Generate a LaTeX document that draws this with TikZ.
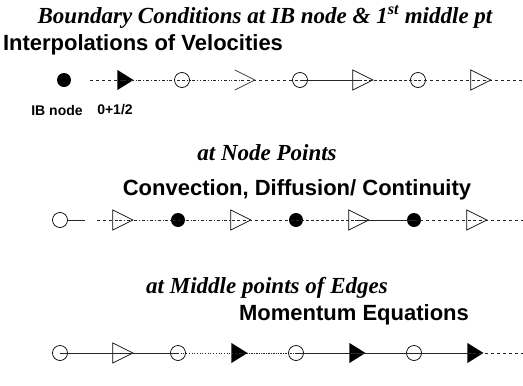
\documentclass[tikz,border=0pt]{standalone}
\usepackage{fontspec}
\setmainfont{Liberation Serif}
\setsansfont{Liberation Sans}
\usetikzlibrary{positioning, shapes.geometric}

\begin{document}
\begin{tikzpicture}[
  x=1pt, y=-1pt,
  node distance=59pt, on grid,
  every node/.style={inner sep=0pt, outer sep=0pt},
  ttl/.style={font=\fontsize{23}{27}\selectfont\bfseries\itshape},
  hdr/.style={font=\fontsize{22}{26}\selectfont\sffamily\bfseries},
  lbl/.style={font=\fontsize{14}{17}\selectfont\sffamily\bfseries},
  fdot/.style={circle, fill=black, minimum size=14pt},
  ring/.style={circle, draw, line width=0.7pt, minimum size=15pt},
  ftri/.style={isosceles triangle, isosceles triangle stretches, fill=black, minimum width=20pt, minimum height=16pt},
  otri/.style={isosceles triangle, isosceles triangle stretches, draw, line width=0.7pt, minimum width=20pt, minimum height=20pt},
  chev/.style={isosceles triangle, isosceles triangle stretches, minimum width=20pt, minimum height=20pt},
  ln/.style={line width=0.7pt, black!85}
]
\useasboundingbox (0,0) rectangle (523,386);

% Titles
\node[ttl] (cond) at (265,17) {Boundary Conditions at IB node \& 1\textsuperscript{st} middle pt};
\node[hdr, anchor=west] (interp) at (3,45) {Interpolations of Velocities};

% Row 1: interpolation
\node[fdot] (b1) at (64,80) {};
\node[ftri] (b2) [right=of b1] {};
\node[ring] (b3) [right=of b2] {};
\node[chev] (b4) [right=of b3] {};
\node[ring] (b5) [right=of b4] {};
\node[otri] (b6) [right=of b5] {};
\node[ring] (b7) [right=of b6] {};
\node[otri] (b8) [right=of b7] {};
\coordinate (r1s) at (90,80);
\coordinate (r1e) at (523,80);
\node[lbl] (ib) [below=30pt of b1, xshift=-7pt] {IB node};
\node[lbl] (half) [below=30pt of b2, xshift=-8pt] {0+1/2};

% Row 2: node points
\node[ttl] (nodept) at (267,153) {at Node Points};
\node[hdr] (conv) at (297,190) {Convection, Diffusion/ Continuity};
\node[ring] (n1) at (60,220) {};
\node[otri] (n2) [right=of n1] {};
\node[fdot] (n3) [right=of n2] {};
\node[otri] (n4) [right=of n3] {};
\node[fdot] (n5) [right=of n4] {};
\node[otri] (n6) [right=of n5] {};
\node[fdot] (n7) [right=of n6] {};
\node[otri] (n8) [right=of n7] {};
\coordinate (n1g) at (85,220);
\coordinate (n2g) at (97,220);
\coordinate (r2e) at (523,220);

% Row 3: middle points of edges
\node[ttl] (midpt) at (267,288) {at Middle points of Edges};
\node[hdr] (mom) at (354,315) {Momentum Equations};
\node[ring] (m1) at (60,353) {};
\node[otri] (m2) [right=of m1] {};
\node[ring] (m3) [right=of m2] {};
\node[ftri] (m4) [right=of m3] {};
\node[ring] (m5) [right=of m4] {};
\node[ftri] (m6) [right=of m5] {};
\node[ring] (m7) [right=of m6] {};
\node[ftri] (m8) [right=of m7] {};
\coordinate (r3e) at (523,353);

% Lines
\draw[ln] (b4.left corner) -- (b4.apex) -- (b4.right corner);
\draw[ln, dashed] (r1s) -- (b2.center);
\draw[ln, dash dot] (b2.center) -- (b3.center);
\draw[ln, dash dot dot] (b3.center) -- (b4.center);
\draw[ln, dashed] (b4.center) -- (b5.center);
\draw[ln] (b5.center) -- (b6.center);
\draw[ln, densely dashed] (b6.center) -- (b7.center);
\draw[ln, dashed] (b7.center) -- (b8.center);
\draw[ln, dashed] (b8.center) -- (r1e);

\draw[ln] (n1.east) -- (n1g);
\draw[ln, dashed] (n2g) -- (n2.center);
\draw[ln, dash dot] (n2.center) -- (n3.center);
\draw[ln, dash dot] (n3.center) -- (n4.center);
\draw[ln, dashed] (n4.center) -- (n5.center);
\draw[ln, densely dashed] (n5.center) -- (n6.center);
\draw[ln] (n6.center) -- (n7.center);
\draw[ln, dashed] (n7.center) -- (n8.center);
\draw[ln, dashed] (n8.center) -- (r2e);

\draw[ln] (m1.center) -- (m2.center);
\draw[ln] (m2.center) -- (m3.center);
\draw[ln, dotted] (m3.center) -- (m4.center);
\draw[ln, densely dotted] (m4.center) -- (m5.center);
\draw[ln] (m5.center) -- (m6.center);
\draw[ln] (m6.center) -- (m7.center);
\draw[ln] (m7.center) -- (m8.center);
\draw[ln, dashed] (m8.center) -- (r3e);

\end{tikzpicture}
\end{document}
